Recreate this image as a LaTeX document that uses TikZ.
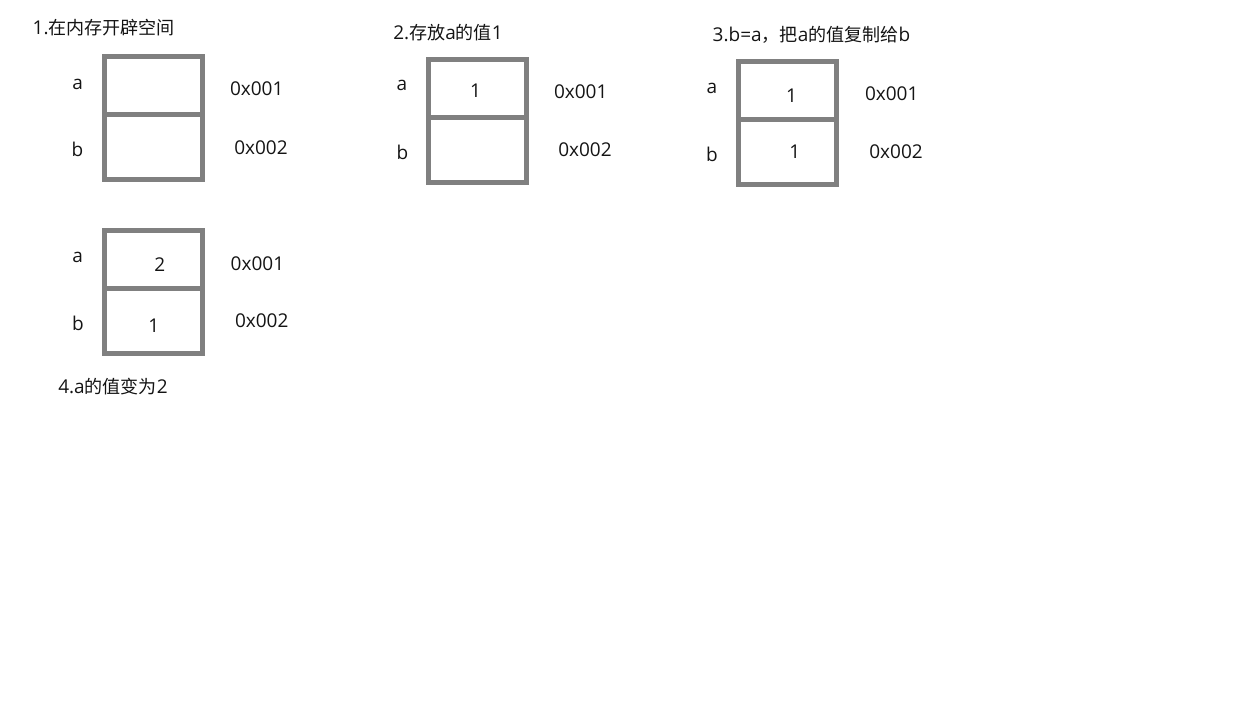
\documentclass[tikz,border=0pt]{standalone}
\usepackage{fontspec}
\setmainfont{Open Sans}
\newfontfamily\cjk[Scale=0.95]{Noto Sans CJK SC}
\definecolor{memgray}{RGB}{128,128,128}
\definecolor{ink}{RGB}{20,20,20}
\begin{document}
\begin{tikzpicture}[x=1pt,y=-1pt,
  txt/.style={anchor=base west,inner sep=0pt,outer sep=0pt,text=ink,font=\fontsize{19}{21}\selectfont},
  celltop/.style={draw=memgray,line width=5pt,rectangle,inner sep=0pt,outer sep=0pt,minimum width=98pt,minimum height=57.5pt,anchor=north west},
  cellbot/.style={draw=memgray,line width=5pt,rectangle,inner sep=0pt,outer sep=0pt,minimum width=98pt,minimum height=65.5pt,anchor=north west}]
\useasboundingbox (0,0) rectangle (1245,709);
% box 1
\node[txt] (t1) at (32.7,35) {1.{\cjk 在内存开辟空间}};
\node[celltop] (b1a) at (104.5,56.5) {};
\node[cellbot] (b1b) at (104.5,114) {};
\node[txt] (l1a) at (72.3,89.3) {a};
\node[txt] (l1b) at (71.7,156.7) {b};
\node[txt] (ad1a) at (230,95.7) {0x001};
\node[txt] (ad1b) at (234.3,154) {0x002};
% box 2
\node[txt] (t2) at (393.3,40) {2.{\cjk 存放}a{\cjk 的值}1};
\node[celltop] (b2a) at (428.5,59.5) {};
\node[cellbot] (b2b) at (428.5,117) {};
\node[txt] (l2a) at (396.7,91) {a};
\node[txt] (l2b) at (396.7,159.3) {b};
\node[txt] (v2a) at (470,97) {1};
\node[txt] (ad2a) at (554,98.3) {0x001};
\node[txt] (ad2b) at (558.3,156.7) {0x002};
% box 3
\node[txt] (t3) at (712.7,41.7) {3.b=a{\cjk ，把}a{\cjk 的值复制给}b};
\node[celltop] (b3a) at (738.5,61.5) {};
\node[cellbot] (b3b) at (738.5,119) {};
\node[txt] (l3a) at (706.7,93.7) {a};
\node[txt] (l3b) at (706,161.7) {b};
\node[txt] (v3a) at (786,102.3) {1};
\node[txt] (v3b) at (789.3,158.3) {1};
\node[txt] (ad3a) at (865,100.7) {0x001};
\node[txt] (ad3b) at (869.3,158.3) {0x002};
% box 4
\node[celltop] (b4a) at (104.5,230.5) {};
\node[cellbot] (b4b) at (104.5,288) {};
\node[txt] (l4a) at (72.3,262.7) {a};
\node[txt] (l4b) at (72,330.7) {b};
\node[txt] (v4a) at (154.3,271) {2};
\node[txt] (v4b) at (148.3,332.3) {1};
\node[txt] (ad4a) at (230.7,270) {0x001};
\node[txt] (ad4b) at (235,327.7) {0x002};
\node[txt] (t4) at (58.3,393.3) {4.a{\cjk 的值变为}2};
\end{tikzpicture}
\end{document}
